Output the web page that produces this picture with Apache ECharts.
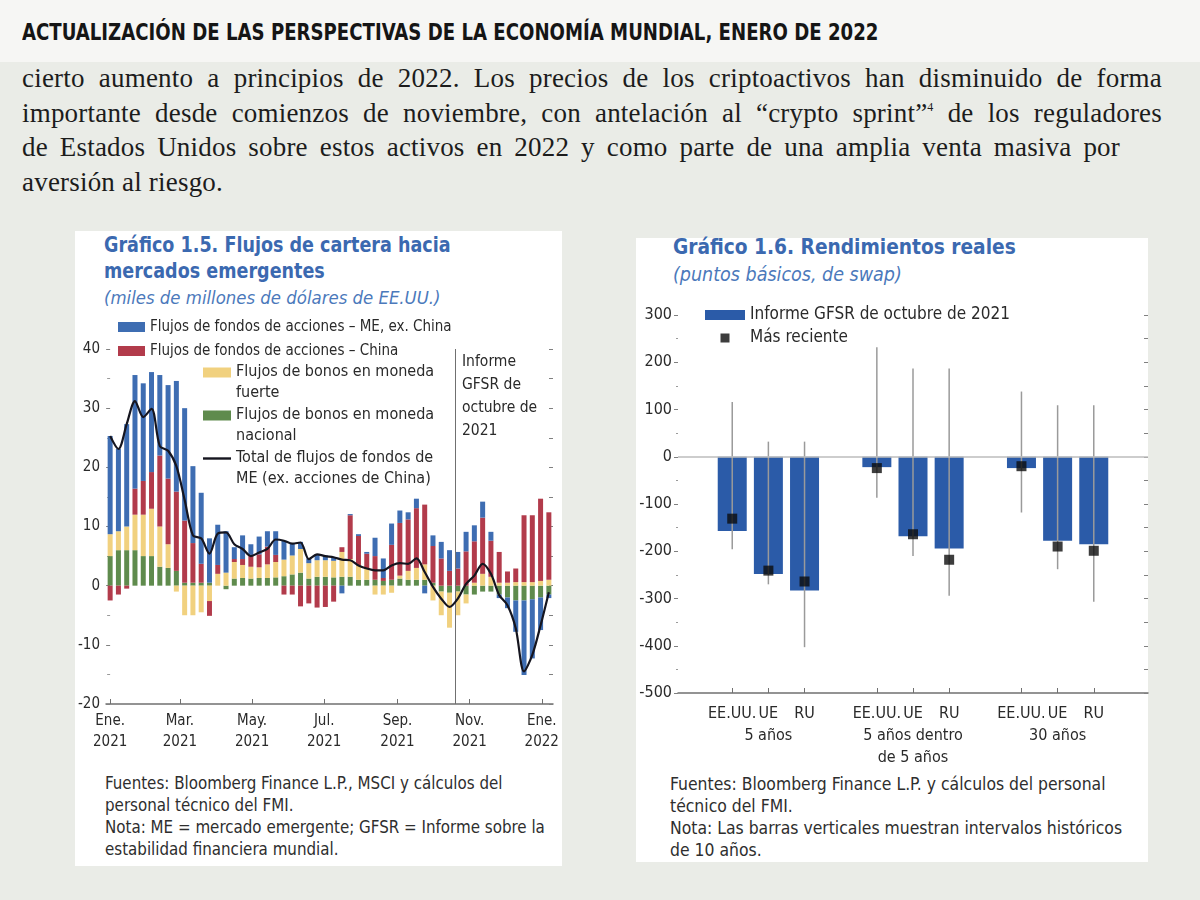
<!DOCTYPE html>
<html><head><meta charset="utf-8">
<script src="https://cdn.jsdelivr.net/npm/echarts@6/dist/echarts.min.js"></script>
<style>
html,body{margin:0;padding:0;width:1200px;height:900px;overflow:hidden;background:#eaece7;}
.nar{font-family:"Liberation Sans Narrow","DejaVu Sans Condensed","Arial Narrow",sans-serif;}
#top{position:absolute;left:0;top:0;width:1200px;height:62px;background:#f6f6f4;}
#hdr{position:absolute;left:22px;top:18px;font-weight:bold;font-size:23px;line-height:28px;color:#151515;white-space:nowrap;transform:scaleX(0.876);transform-origin:0 0;}
.pl{position:absolute;left:22px;font-family:"Liberation Serif","DejaVu Serif",serif;font-size:27px;letter-spacing:0.2px;line-height:34px;color:#1c1c1c;text-align:justify;text-align-last:justify;}
.pl sup{font-size:12px;vertical-align:11px;line-height:0;}
.panel{position:absolute;background:#ffffff;}
.ttl{position:absolute;font-weight:bold;font-size:22px;line-height:26px;color:#3b69b0;white-space:nowrap;transform-origin:0 0;}
.sub{position:absolute;font-style:italic;line-height:22px;color:#4b79bb;white-space:nowrap;}
.note{position:absolute;line-height:22px;color:#2e2e2e;white-space:nowrap;}
#chart{position:absolute;left:0;top:0;width:1200px;height:900px;}
</style></head>
<body>
<div id="top"></div>
<div id="hdr" class="nar">ACTUALIZACIÓN DE LAS PERSPECTIVAS DE LA ECONOMÍA MUNDIAL, ENERO DE 2022</div>
<div class="pl" style="top:61px;width:1140px;">cierto aumento a principios de 2022. Los precios de los criptoactivos han disminuido de forma</div>
<div class="pl" style="top:95.5px;width:1140px;">importante desde comienzos de noviembre, con antelación al “crypto sprint”<sup>4</sup> de los reguladores</div>
<div class="pl" style="top:130px;width:1098px;">de Estados Unidos sobre estos activos en 2022 y como parte de una amplia venta masiva por</div>
<div class="pl" style="top:165px;text-align-last:left;white-space:nowrap;">aversión al riesgo.</div>

<div class="panel" style="left:75px;top:231px;width:487px;height:635px;"></div>
<div class="panel" style="left:636px;top:238px;width:512px;height:624px;"></div>

<div class="ttl nar" style="left:104px;top:232px;transform:scaleX(0.887);">Gráfico 1.5. Flujos de cartera hacia<br>mercados emergentes</div>
<div class="sub nar" style="left:104px;top:287px;font-size:18.4px;">(miles de millones de dólares de EE.UU.)</div>
<div class="note nar" style="left:105px;top:772px;font-size:16.8px;">Fuentes: Bloomberg Finance L.P., MSCI y cálculos del<br>personal técnico del FMI.<br>Nota: ME = mercado emergente; GFSR = Informe sobre la<br>estabilidad financiera mundial.</div>

<div class="ttl nar" style="left:673px;top:234px;transform:scaleX(0.94);">Gráfico 1.6. Rendimientos reales</div>
<div class="sub nar" style="left:673px;top:264px;font-size:19.5px;">(puntos básicos, de swap)</div>
<div class="note nar" style="left:670px;top:773px;font-size:17.4px;">Fuentes: Bloomberg Finance L.P. y cálculos del personal<br>técnico del FMI.<br>Nota: Las barras verticales muestran intervalos históricos<br>de 10 años.</div>

<div id="chart"></div>
<script>
// ---------- Gráfico 1.5 data (weekly, miles de millones de USD) ----------
const weeks = ['2021-01-01','2021-01-08','2021-01-15','2021-01-22','2021-01-29','2021-02-05','2021-02-12','2021-02-19','2021-02-26',
 '2021-03-05','2021-03-12','2021-03-19','2021-03-26','2021-04-02','2021-04-09','2021-04-16','2021-04-23','2021-04-30',
 '2021-05-07','2021-05-14','2021-05-21','2021-05-28','2021-06-04','2021-06-11','2021-06-18','2021-06-25',
 '2021-07-02','2021-07-09','2021-07-16','2021-07-23','2021-07-30','2021-08-06','2021-08-13','2021-08-20','2021-08-27',
 '2021-09-03','2021-09-10','2021-09-17','2021-09-24','2021-10-01','2021-10-08','2021-10-15','2021-10-22','2021-10-29',
 '2021-11-05','2021-11-12','2021-11-19','2021-11-26','2021-12-03','2021-12-10','2021-12-17','2021-12-24','2021-12-31','2022-01-07'];
const equityEMexChina = [16.6,13.9,17.3,19.2,16.5,16.9,13.6,15.8,18.7,19.0,
 13.0,12.0,7.5,6.8,7.0,2.0,4.0,1.8,3.0,2.6,
 4.0,3.2,2.0,1.2,0.8,1.0,0.8,0.5,-1.3,0.2,
 0.3,0.3,3.1,3.3,3.6,2.1,1.2,1.6,-1.3,1.8,
 2.8,3.5,2.8,3.3,2.7,2.7,1.5,-0.6,-1.8,-5.3,
 -12.6,-10.0,-5.5,-0.6];
const equityChina = [-2.5,-1.5,-0.5,4.4,5.7,6.2,12.0,11.1,13.4,10.5,
 6.7,3.2,-2.5,1.5,0.0,0.5,1.0,2.0,2.2,3.0,
 1.2,-1.5,-1.5,-3.5,-3.0,-3.7,-3.6,-2.7,0.8,7.4,
 5.0,2.5,4.0,0.5,5.9,8.9,8.7,10.1,10.1,6.2,
 4.6,2.5,2.9,5.8,7.0,9.5,6.1,5.2,1.9,2.3,
 11.3,11.3,13.9,11.4];
const bondsHard = [3.7,3.2,4.0,6.0,7.0,8.0,6.8,4.0,-1.0,-5.0,
 -5.0,-4.5,-2.6,2.0,2.2,2.8,2.2,2.0,1.8,2.3,
 2.6,2.8,3.2,4.0,2.6,2.8,2.8,2.8,4.2,3.0,
 2.4,1.9,-1.5,-1.5,-1.2,0.5,1.5,2.0,2.6,-2.5,
 -4.0,-5.9,-4.0,-1.5,0.5,2.0,1.5,0.5,0.5,0.6,
 0.6,0.6,0.8,1.0];
const bondsLocal = [5.0,6.0,6.0,6.0,5.0,5.0,3.2,3.0,2.5,0.5,
 0.5,0.5,0.5,0.0,-0.6,1.2,1.3,1.2,1.3,1.3,
 1.4,1.6,1.9,2.2,1.2,1.5,1.5,1.4,1.5,1.5,
 1.0,1.0,1.0,0.8,1.0,1.2,1.0,1.0,1.0,0.5,
 -1.0,-1.2,-1.0,-1.5,-1.5,-1.0,-1.0,-1.5,-2.0,-2.5,
 -2.5,-2.3,-2.0,-1.5];
const totalExChina = [25.3,23.1,27.3,31.2,28.5,29.9,23.6,22.8,20.2,14.5,
 8.5,8.0,5.4,8.8,9.0,7.0,6.2,5.0,5.6,6.2,
 7.8,7.6,7.1,7.3,4.5,5.3,5.0,4.8,4.4,4.3,
 3.4,2.9,2.6,2.6,3.4,3.8,3.7,4.6,2.3,-0.2,
 -2.2,-3.6,-2.2,0.3,1.7,3.7,2.0,-1.6,-3.3,-7.2,
 -14.5,-11.7,-6.7,-1.1];
const tickDates = ['2021-01-01','2021-03-01','2021-05-01','2021-07-01','2021-09-01','2021-11-01','2022-01-01'];
const tickLabels = ['Ene.\n2021','Mar.\n2021','May.\n2021','Jul.\n2021','Sep.\n2021','Nov.\n2021','Ene.\n2022'];
const gfsrDate = '2021-10-20';
const seriesNames = ['Flujos de fondos de acciones – ME, ex. China','Flujos de fondos de acciones – China',
 'Flujos de bonos en moneda fuerte','Flujos de bonos en moneda nacional','Total de flujos de fondos de ME (ex. acciones de China)'];
const legendLabels = ['Flujos de fondos de acciones – ME, ex. China','Flujos de fondos de acciones – China',
 'Flujos de bonos en moneda\nfuerte','Flujos de bonos en moneda\nnacional','Total de flujos de fondos de\nME (ex. acciones de China)'];

// ---------- Gráfico 1.6 data (puntos básicos) ----------
const countries = ['EE.UU.','UE','RU'];
const horizons = ['5 años','5 años dentro\nde 5 años','30 años'];
const gfsrOct2021 = [-157,-248,-283, -22,-168,-194, -24,-178,-185];
const latest = [-131,-241,-264, -24,-164,-218, -20,-190,-199];
const histHigh = [116,32,32, 232,187,187, 138,109,109];
const histLow = [-196,-270,-403, -87,-210,-294, -118,-238,-307];
const names2 = ['Informe GFSR de octubre de 2021','Más reciente'];

// ---------- build ----------
const NARROW = '"Liberation Sans Narrow","DejaVu Sans Condensed","Arial Narrow",sans-serif';
const TXT = '#2a2a2a';
const day0 = Date.parse('2021-01-01');
const toDay = s => Math.round((Date.parse(s) - day0) / 86400000);
const weekDays = weeks.map(toDay);
const tickDays = tickDates.map(toDay);
const tickMap = {}; tickDays.forEach((d,i)=>{ tickMap[d] = tickLabels[i]; });
const pair = arr => weekDays.map((d,i)=>[d, arr[i]]);
const labelOf = {}; seriesNames.forEach((n,i)=>{ labelOf[n] = legendLabels[i]; });

const slotKeys = [''];
const slotData = [-1];   // index into the 9-value arrays, or -1 for a gap
horizons.forEach((h,g)=>{
  countries.forEach((c,k)=>{ slotKeys.push(c+'|'+g); slotData.push(g*3+k); });
  slotKeys.push(' '.repeat(g+1)); slotData.push(-1);
});
const barData = slotData.map(j => j < 0 ? '-' : gfsrOct2021[j]);
const latestData = []; const rangeData = [];
slotData.forEach((j,s)=>{ if (j >= 0) { latestData.push([s, latest[j]]); rangeData.push([s, histLow[j], histHigh[j]]); } });

const colBlue = '#3e6db2', colRed = '#b23b4b', colYellow = '#f1d17f', colGreen = '#5f8b4d';
const barIcon = 'path://M0,0L0,0M28,30L28,30M0,0H28V10H0Z';
const lineIcon = 'path://M0,0L0,0M28,30L28,30M0,3.8H28V6.2H0Z';
const sqIcon = 'path://M0,0L0,0M40,10L40,10M15.5,0.5H24.5V9.5H15.5Z';

function stackBar(name, arr, color){
  return {name, type:'bar', xAxisIndex:1, yAxisIndex:0, stack:'flows', barWidth:5,
    data: arr, itemStyle:{color}, silent:true};
}

const chart = echarts.init(document.getElementById('chart'), null, {renderer:'canvas'});
chart.setOption({
  animation:false,
  backgroundColor:'transparent',
  textStyle:{fontFamily:NARROW},
  grid:[{left:106, top:349, width:447, height:355},{left:678, top:315, width:470, height:378}],
  legend:[
    {data:[seriesNames[0], seriesNames[1]], left:118, top:317, orient:'vertical', padding:0,
     itemWidth:27, itemHeight:10, itemGap:4, icon:'rect', selectedMode:false,
     textStyle:{fontFamily:NARROW, fontSize:15, lineHeight:20, color:TXT}},
    {data:[{name:seriesNames[2], icon:barIcon},{name:seriesNames[3], icon:barIcon},{name:seriesNames[4], icon:lineIcon}],
     left:203, top:362, orient:'vertical', padding:0, itemWidth:28, itemHeight:30, itemGap:2, selectedMode:false,
     itemStyle:{borderWidth:0},
     formatter: n => labelOf[n],
     textStyle:{fontFamily:NARROW, fontSize:16, lineHeight:20.5, color:TXT}},
    {data:[{name:names2[0], icon:'rect'},{name:names2[1], icon:sqIcon}], left:705, top:305, orient:'vertical',
     padding:0, itemWidth:40, itemHeight:10, itemGap:3, selectedMode:false, itemStyle:{borderWidth:0},
     textStyle:{fontFamily:NARROW, fontSize:17, lineHeight:20, color:TXT}}
  ],
  xAxis:[
    {gridIndex:0, type:'value', min:-3.5, max:374.5,
     axisLine:{show:true, onZero:false, lineStyle:{color:'#707070', width:1.5}},
     axisTick:{show:true, inside:true, length:5, customValues:tickDays, lineStyle:{color:'#707070'}},
     axisLabel:{customValues:tickDays, formatter: v => tickMap[v] || '', fontSize:15, lineHeight:21, color:TXT, margin:7, fontFamily:NARROW},
     splitLine:{show:false}},
    {gridIndex:0, type:'category', data:weeks, show:false, boundaryGap:true},
    {gridIndex:1, type:'category', data:slotKeys,
     axisLine:{show:true, onZero:false, lineStyle:{color:'#707070', width:1.5}},
     axisTick:{show:true, inside:true, length:5, alignWithLabel:true, interval:(i)=> slotData[i] >= 0, lineStyle:{color:'#707070'}},
     axisLabel:{interval:0, fontSize:16, lineHeight:22, color:TXT, margin:10, fontFamily:NARROW,
       formatter: v => { const p = v.split('|'); if (p.length < 2) return ''; return p[0] === 'UE' ? p[0] + '\n' + horizons[+p[1]] : p[0]; }},
     splitLine:{show:false}}
  ],
  yAxis:[
    {gridIndex:0, type:'value', min:-20, max:40, interval:10,
     axisLine:{show:false}, axisTick:{show:true, length:4, lineStyle:{color:'#808080'}},
     minorTick:{show:true, splitNumber:2, length:3, lineStyle:{color:'#9a9a9a'}},
     axisLabel:{fontSize:15, color:TXT, margin:6, fontFamily:NARROW}, splitLine:{show:false}},
    {gridIndex:0, type:'value', position:'right', min:-20, max:40, interval:5,
     axisLine:{show:false}, axisTick:{show:true, inside:true, length:4, lineStyle:{color:'#808080'}},
     axisLabel:{show:false}, splitLine:{show:false}},
    {gridIndex:1, type:'value', min:-500, max:300, interval:100,
     axisLine:{show:false}, axisTick:{show:true, length:4, lineStyle:{color:'#808080'}},
     minorTick:{show:true, splitNumber:2, length:2, lineStyle:{color:'#9a9a9a'}},
     axisLabel:{fontSize:16, color:TXT, margin:6, fontFamily:NARROW}, splitLine:{show:false}},
    {gridIndex:1, type:'value', position:'right', min:-500, max:300, interval:50,
     axisLine:{show:false}, axisTick:{show:true, inside:true, length:4, lineStyle:{color:'#808080'}},
     axisLabel:{show:false}, splitLine:{show:false}}
  ],
  graphic:[
    {type:'text', left:462, top:350, silent:true,
     style:{text:'Informe\nGFSR de\noctubre de\n2021', font:'15.5px ' + NARROW, lineHeight:23, fill:TXT}}
  ],
  series:[
    stackBar(seriesNames[3], bondsLocal, colGreen),
    stackBar(seriesNames[2], bondsHard, colYellow),
    stackBar(seriesNames[1], equityChina, colRed),
    stackBar(seriesNames[0], equityEMexChina, colBlue),
    {name:seriesNames[4], type:'line', xAxisIndex:0, yAxisIndex:0, data:pair(totalExChina),
     showSymbol:false, symbol:'none', smooth:0.3, z:5, silent:true,
     lineStyle:{color:'#15151f', width:2.2}, itemStyle:{color:'#15151f'},
     markLine:{silent:true, symbol:'none', label:{show:false}, lineStyle:{color:'#707070', width:1, type:'solid'},
       data:[{xAxis: toDay(gfsrDate)}]}},
    {name:names2[0], type:'bar', xAxisIndex:2, yAxisIndex:2, data:barData, barWidth:29, silent:true,
     itemStyle:{color:'#2b5ba8'}, z:2,
     markLine:{silent:true, symbol:'none', label:{show:false}, lineStyle:{color:'#bdbdbd', width:1.5, type:'solid'},
       data:[{yAxis:0}]}},
    {name:'Intervalo histórico de 10 años', type:'custom', xAxisIndex:2, yAxisIndex:2, data:rangeData, z:3, silent:true,
     encode:{x:0, y:[1,2]},
     renderItem:(params, api)=>{
       const x = api.value(0);
       const p1 = api.coord([x, api.value(1)]);
       const p2 = api.coord([x, api.value(2)]);
       return {type:'line', shape:{x1:p1[0], y1:p1[1], x2:p2[0], y2:p2[1]}, style:{stroke:'#9a9a9a', lineWidth:1.5}};
     }},
    {name:names2[1], type:'scatter', xAxisIndex:2, yAxisIndex:2, data:latestData, symbol:'rect', symbolSize:10,
     itemStyle:{color:'#0d0d0d'}, z:4, silent:true}
  ]
});
</script>
</body></html>
